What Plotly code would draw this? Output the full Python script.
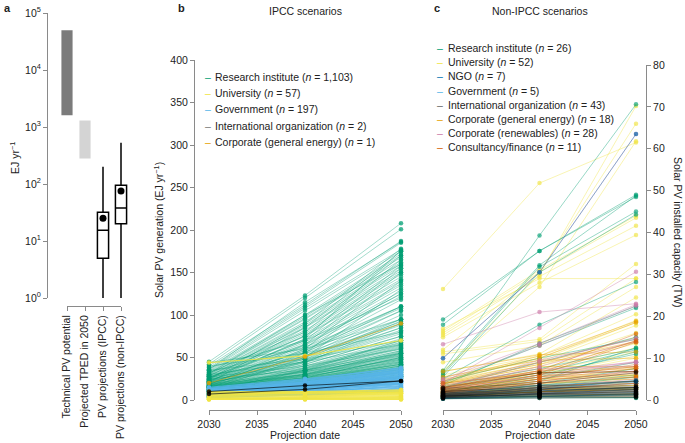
import plotly.graph_objects as go

W, H = 685, 443
FONT = "Liberation Sans, Arial, Helvetica, sans-serif"
AXC = "#8a8a8a"
TXT = "#222222"

# ---------------- Panel a ----------------
a_categories = ["Technical PV potential", "Projected TPED in 2050",
                "PV projections (IPCC)", "PV projections (non-IPCC)"]
a_bar_low = [1600, 280]
a_bar_high = [50000, 1300]
a_bar_colors = ["#7b7b7b", "#d4d4d4"]
a_box_lowerfence = [1, 1]
a_box_q1 = [5, 20]
a_box_median = [15.5, 38]
a_box_q3 = [32, 95]
a_box_upperfence = [200, 530]
a_box_mean = [25, 75]
a_yticks = [1, 10, 100, 1000, 10000, 100000]
a_yticktext = ["10<sup>0</sup>", "10<sup>1</sup>", "10<sup>2</sup>",
               "10<sup>3</sup>", "10<sup>4</sup>", "10<sup>5</sup>"]

# ---------------- Panel b (EJ/yr) ----------------
years = [2030, 2040, 2050]
b_research = [
    [45, 123, 208], [42, 120, 201], [40, 112, 187], [38, 110, 185], [36, 108, 177],
    [35, 105, 175], [34, 100, 172], [33, 98, 170], [32, 96, 168], [31, 95, 165],
    [30, 92, 162], [30, 90, 160], [29, 88, 158], [28, 86, 155], [28, 85, 152],
    [27, 82, 150], [26, 80, 148], [26, 78, 145], [25, 76, 142], [25, 75, 140],
    [24, 72, 137], [24, 70, 135], [23, 68, 132], [22, 66, 128], [22, 64, 125],
    [21, 62, 122], [20, 60, 110], [20, 58, 108], [19, 56, 105], [19, 55, 95],
    [18, 52, 92], [18, 50, 88], [17, 48, 85], [17, 46, 82], [16, 45, 80],
    [16, 44, 78], [15, 42, 75], [15, 40, 72], [14, 38, 70], [14, 37, 68],
    [13, 36, 65], [13, 35, 63], [12, 34, 60], [12, 33, 58], [12, 32, 56],
    [11, 31, 55], [11, 30, 53], [11, 29, 51], [10, 28, 50], [10, 27, 48],
    [10, 26, 47], [9, 25, 45], [9, 24, 44], [9, 23, 42], [8, 22, 41],
    [8, 21, 40], [8, 20, 38], [7, 19, 37], [7, 18, 36], [7, 17, 35],
    [44, 60, 95], [40, 55, 80], [38, 70, 120], [35, 48, 70], [33, 62, 110],
    [30, 45, 65], [28, 52, 90], [27, 40, 60], [25, 35, 55], [24, 50, 100],
    [23, 45, 85], [21, 38, 66], [20, 42, 75], [19, 33, 52], [18, 30, 48],
    [17, 28, 45], [16, 26, 42], [15, 24, 40], [14, 22, 38], [13, 20, 36],
    [12, 19, 33], [11, 18, 32], [10, 17, 30], [9, 15, 28], [8, 14, 27],
    [32, 80, 170], [29, 75, 165], [26, 70, 158], [22, 72, 176], [18, 65, 155],
    [16, 60, 150], [14, 55, 140], [12, 50, 130], [20, 85, 175], [24, 90, 178],
    [36, 115, 186], [31, 100, 160], [27, 65, 125], [23, 58, 118], [10, 35, 70],
    [12, 24, 46], [13, 26, 50], [15, 30, 54], [9, 20, 39], [11, 22, 43],
    [6, 15, 30], [6, 14, 28], [5, 13, 26], [5, 12, 25], [8, 18, 34],
    [9, 19, 36], [10, 21, 38], [11, 24, 42], [12, 27, 49], [13, 29, 52],
    [14, 31, 55], [15, 33, 58], [16, 35, 61], [17, 37, 64], [18, 40, 67],
    [7, 16, 32], [9, 22, 40], [10, 23, 44], [11, 25, 47], [13, 28, 54],
    [14, 30, 57], [16, 34, 62], [6, 13, 27], [8, 17, 33], [12, 26, 50],
    [20, 44, 90], [22, 48, 95], [26, 56, 110], [21, 52, 105], [19, 46, 93],
]
b_government = [
    [14, 24, 38], [13, 22, 36], [12, 21, 34], [11, 20, 32], [10, 18, 30],
    [9, 17, 28], [8, 15, 26], [7, 14, 24], [6, 12, 22], [5, 11, 20],
    [5, 10, 18], [4, 9, 16], [4, 8, 14], [3, 7, 12], [3, 6, 10],
    [12, 19, 26], [10, 16, 22], [8, 13, 19], [6, 10, 15], [15, 25, 37],
    [9, 20, 33], [7, 17, 29], [13, 23, 35], [12, 20, 33], [11, 19, 31],
    [10, 17, 29], [9, 16, 27], [8, 14, 25], [7, 13, 23], [6, 11, 21],
    [5, 10, 19], [4, 9, 17], [4, 7, 13], [3, 6, 11], [11, 21, 35],
    [10, 19, 31], [8, 16, 27], [7, 15, 25], [6, 13, 22], [5, 12, 20],
]
b_university = [
    [10, 10, 12], [9, 9, 11], [8, 8, 10], [7, 8, 9], [6, 7, 8], [5, 6, 7],
    [4, 5, 6], [3, 4, 5], [2, 3, 4], [2, 2, 3], [1, 2, 2], [1, 1, 1],
    [0.5, 0.5, 0.5], [5, 10, 8], [44, 52, 70],
]
b_corporate = [[20, 51, 90]]
b_international = [[10, 17, 22.5], [7, 12.5, 22.5]]

b_legend_names = ["Research institute", "University", "Government",
                  "International organization", "Corporate (general energy)"]
b_legend_n = ["1,103", "57", "197", "2", "1"]
b_legend_colors = ["#009E73", "#F0E442", "#56B4E9", "#777777", "#E69F00"]

# ---------------- Panel c (TW) ----------------
c_research = [
    [7.0, 39.3, 70.6], [19.2, 35.6, 49.0], [18.0, 35.6, 48.5], [6.5, 32.2, 48.8],
    [6.0, 31.8, 45.0], [5.5, 30.5, 44.3], [5.0, 18.0, 28.2], [4.0, 13.0, 22.0],
    [3.5, 13.5, 22.4], [3.0, 9.0, 15.0], [2.5, 6.5, 12.0], [2.0, 5.5, 11.5],
    [1.5, 5.0, 9.0], [1.2, 4.0, 7.5], [1.0, 3.0, 5.5], [0.8, 2.0, 3.0],
    [0.5, 1.5, 2.0], [0.3, 0.5, 0.5], [0.5, 1.0, 1.2], [2.2, 4.5, 12.5],
    [1.8, 6.0, 11.0], [0.6, 2.5, 4.0], [4.5, 10.0, 14.5], [3.2, 7.5, 12.3],
    [1.0, 3.5, 6.0], [0.4, 0.8, 0.6],
]
c_university = [
    [26.5, 51.8, 61.5], [7.0, 27.0, 61.8], [6.5, 30.0, 70.2], [12.0, 30.5, 66.0],
    [16.5, 31.0, 44.0], [16.0, 30.5, 43.5], [15.5, 29.5, 41.6], [15.0, 28.0, 39.4],
    [11.5, 14.5, 32.5], [11.0, 14.0, 29.0], [9.0, 13.0, 27.0], [6.8, 11.0, 24.5],
    [6.0, 10.5, 20.5], [5.5, 10.0, 19.0], [5.0, 9.5, 18.5], [4.5, 9.0, 17.8],
    [4.0, 8.5, 16.0], [3.8, 8.0, 15.0], [3.5, 7.5, 13.5], [3.0, 7.0, 12.5],
    [2.8, 6.5, 11.5], [2.5, 6.0, 10.5], [2.2, 5.5, 10.0], [2.0, 5.0, 8.5],
    [1.8, 4.5, 7.5], [1.5, 4.0, 6.5], [1.2, 3.5, 5.5], [1.0, 3.0, 4.5],
    [0.8, 2.5, 3.5], [0.6, 2.0, 2.8], [0.5, 1.5, 2.0], [0.4, 1.0, 1.5],
    [0.3, 0.8, 1.0], [1.5, 2.5, 3.0], [2.5, 4.0, 5.0], [3.5, 5.0, 6.0],
    [0.8, 1.2, 1.5], [1.0, 2.0, 2.5], [17.0, 29.0, 29.0],
]
c_ngo = [
    [10.0, 30.5, 63.5], [1.5, 3.5, 4.5], [1.2, 3.0, 4.3], [1.0, 2.5, 4.7],
    [0.8, 2.2, 3.0], [0.5, 1.5, 2.5], [0.3, 0.8, 1.5],
]
c_government = [
    [1.0, 2.0, 3.0], [0.6, 1.2, 1.8], [2.0, 3.5, 5.5], [0.4, 0.8, 1.2], [1.5, 2.8, 4.0],
]
c_international = [
    [2.8, 4.0, 6.5], [2.5, 3.5, 3.2], [2.2, 3.0, 3.0], [2.0, 2.8, 2.8], [1.8, 2.5, 2.6],
    [1.6, 2.3, 2.4], [1.5, 2.0, 2.2], [1.3, 1.8, 2.0], [1.2, 1.6, 1.8], [1.0, 1.5, 1.6],
    [0.9, 1.3, 1.5], [0.8, 1.2, 1.3], [0.7, 1.0, 1.2], [0.6, 0.9, 1.0], [0.5, 0.8, 0.9],
    [1.4, 2.2, 3.0], [1.1, 1.9, 2.6], [0.9, 1.7, 2.4], [0.6, 1.4, 2.0], [2.0, 3.2, 4.5],
    [1.7, 2.6, 3.6], [1.0, 1.2, 1.4], [0.4, 0.6, 0.7], [0.3, 0.5, 0.6], [3.0, 6.5, 6.8],
]
c_corp_energy = [
    [4.8, 10.5, 18.8], [4.5, 10.0, 18.5], [4.2, 9.0, 14.0], [4.0, 8.5, 13.8],
    [3.8, 8.0, 8.0], [3.5, 7.0, 7.8], [3.2, 6.5, 7.5], [3.0, 6.0, 6.0],
    [2.8, 5.5, 5.8], [2.5, 5.0, 5.5], [2.2, 4.5, 5.0], [2.0, 4.0, 4.5],
    [1.8, 3.5, 4.0], [1.5, 3.0, 3.5], [1.2, 2.5, 3.0], [1.0, 2.0, 2.5],
    [6.8, 10.8, 11.5], [5.5, 9.5, 10.0],
]
c_corp_renew = [
    [13.3, 21.0, 23.0], [10.0, 30.5, 63.5], [4.0, 17.2, 30.6], [5.0, 13.5, 22.8],
    [4.5, 13.0, 22.5], [3.0, 9.5, 14.5], [2.8, 9.0, 14.8], [2.5, 8.0, 14.0],
    [2.2, 7.0, 9.0], [2.0, 6.0, 9.2], [1.8, 5.0, 8.5], [1.5, 4.5, 7.0],
    [1.2, 4.0, 6.5], [1.0, 3.0, 5.0], [0.8, 2.5, 4.0], [2.7, 5.5, 9.0],
    [3.5, 7.5, 8.0], [0.5, 1.5, 2.0],
]
c_consult = [
    [3.0, 7.0, 15.8], [2.8, 6.5, 14.2], [2.5, 6.0, 13.8], [2.2, 5.5, 8.0],
    [2.0, 5.0, 7.5], [1.8, 4.5, 6.8], [1.5, 4.0, 5.5], [1.2, 3.0, 4.5],
    [1.0, 2.5, 4.0], [0.8, 2.0, 3.0], [4.0, 6.5, 6.8],
]
c_legend_names = ["Research institute", "University", "NGO", "Government",
                  "International organization", "Corporate (general energy)",
                  "Corporate (renewables)", "Consultancy/finance"]
c_legend_n = ["26", "52", "7", "5", "43", "18", "28", "11"]
c_legend_colors = ["#009E73", "#F0E442", "#0072B2", "#56B4E9", "#666666",
                   "#E69F00", "#CC79A7", "#D55E00"]


def rgba(hexc, a):
    h = hexc.lstrip("#")
    r, g, b = int(h[0:2], 16), int(h[2:4], 16), int(h[4:6], 16)
    return f"rgba({r},{g},{b},{a})"


def px_x(p):
    return p / W


def px_y(p):
    return 1 - p / H


fig = go.Figure()

# ----- panel a traces -----
fig.add_trace(go.Bar(
    x=[0, 1], base=a_bar_low,
    y=[hi - lo for hi, lo in zip(a_bar_high, a_bar_low)],
    width=0.62, marker=dict(color=a_bar_colors, line=dict(width=0)),
    xaxis="x", yaxis="y", showlegend=False, hoverinfo="skip"))
fig.add_trace(go.Box(
    x=[2, 3], q1=a_box_q1, median=a_box_median, q3=a_box_q3,
    lowerfence=a_box_lowerfence, upperfence=a_box_upperfence,
    width=0.62, fillcolor="white", line=dict(color="black", width=1.5),
    whiskerwidth=0, boxpoints=False, xaxis="x", yaxis="y", showlegend=False,
    hoverinfo="skip"))
fig.add_trace(go.Scatter(
    x=[2, 3], y=a_box_mean, mode="markers",
    marker=dict(color="black", size=7), xaxis="x", yaxis="y",
    showlegend=False, hoverinfo="skip"))
fig.add_trace(go.Scatter(x=[None], y=[None], xaxis="x4", yaxis="y4",
                         showlegend=False, hoverinfo="skip"))


def add_lines(rows, color, xa, ya, la, ma, lw=0.9, ms=4.5):
    for row in rows:
        fig.add_trace(go.Scatter(
            x=years, y=row, mode="lines+markers",
            line=dict(color=rgba(color, la), width=lw),
            marker=dict(color=rgba(color, ma), size=ms),
            cliponaxis=False, xaxis=xa, yaxis=ya,
            showlegend=False, hoverinfo="skip"))


# ----- panel b -----
add_lines(b_research, "#009E73", "x2", "y2", 0.4, 0.75)
add_lines(b_government, "#56B4E9", "x2", "y2", 0.8, 0.9, lw=1.2)
add_lines(b_university, "#F0E442", "x2", "y2", 0.85, 0.9, lw=1.2)
add_lines(b_corporate, "#E69F00", "x2", "y2", 0.6, 0.8)
add_lines(b_international, "#000000", "x2", "y2", 0.7, 0.85)

# ----- panel c -----
add_lines(c_university, "#F0E442", "x3", "y3", 0.45, 0.65)
add_lines(c_research, "#009E73", "x3", "y3", 0.45, 0.65)
add_lines(c_government, "#56B4E9", "x3", "y3", 0.45, 0.65)
add_lines(c_corp_energy, "#E69F00", "x3", "y3", 0.45, 0.65)
add_lines(c_corp_renew, "#CC79A7", "x3", "y3", 0.45, 0.65)
add_lines(c_consult, "#D55E00", "x3", "y3", 0.45, 0.65)
add_lines(c_ngo, "#0072B2", "x3", "y3", 0.45, 0.65)
add_lines(c_international, "#000000", "x3", "y3", 0.3, 0.5)

tickfont = dict(family=FONT, size=10.5, color=TXT)
common = dict(showline=True, linecolor=AXC, linewidth=1, ticks="outside",
              tickcolor=AXC, ticklen=4, tickwidth=1, showgrid=False,
              zeroline=False, tickfont=tickfont, automargin=False)

unit = (121 - 67) / 3.0
fig.update_layout(
    width=W, height=H, margin=dict(l=0, r=0, t=0, b=0, autoexpand=False),
    paper_bgcolor="white", plot_bgcolor="rgba(0,0,0,0)",
    showlegend=False, barmode="overlay", font=dict(family=FONT, color=TXT),
    # panel a
    xaxis=dict(domain=[px_x(67 - 0.5 * unit), px_x(121 + 0.5 * unit)],
               range=[-0.5, 3.5], visible=False, anchor="y", automargin=False),
    yaxis=dict(type="log", domain=[px_y(298), px_y(13)], range=[0, 5],
               anchor="free", position=px_x(47), tickvals=a_yticks,
               ticktext=a_yticktext, **common),
    xaxis4=dict(domain=[px_x(67), px_x(121)], range=[0, 3], anchor="free",
                position=px_y(306), tickvals=[0, 1, 2, 3], ticktext=a_categories,
                tickangle=-90, **common),
    yaxis4=dict(domain=[px_y(298), px_y(13)], range=[0, 1], visible=False,
                anchor="x4", automargin=False),
    # panel b
    xaxis2=dict(domain=[px_x(209), px_x(401)], range=[2030, 2050],
                anchor="free", position=px_y(410),
                tickvals=[2030, 2035, 2040, 2045, 2050], **common),
    yaxis2=dict(domain=[px_y(400), px_y(60)], range=[0, 400], anchor="free",
                position=px_x(194), tickvals=list(range(0, 401, 50)), **common),
    # panel c
    xaxis3=dict(domain=[px_x(443), px_x(636)], range=[2030, 2050],
                anchor="free", position=px_y(410),
                tickvals=[2030, 2035, 2040, 2045, 2050], **common),
    yaxis3=dict(domain=[px_y(400), px_y(65)], range=[0, 80], anchor="free",
                side="right", position=px_x(646),
                tickvals=list(range(0, 81, 10)), **common),
)

ann = []


def text(x, y, s, size=10.5, xanchor="center", yanchor="middle", angle=0,
         bold=False, color=TXT):
    if bold:
        s = f"<b>{s}</b>"
    ann.append(dict(x=px_x(x), y=px_y(y), xref="paper", yref="paper", text=s,
                    showarrow=False, xanchor=xanchor, yanchor=yanchor,
                    textangle=angle, font=dict(family=FONT, size=size, color=color)))


text(2, 8, "a", size=11, xanchor="left", bold=True)
text(176, 8, "b", size=11, xanchor="left", bold=True)
text(432, 8, "c", size=11, xanchor="left", bold=True)
text(305, 11, "IPCC scenarios", size=10.5)
text(540, 11, "Non-IPCC scenarios", size=10.5)
text(14, 158, "EJ yr<sup>−1</sup>", angle=-90)
text(158, 230, "Solar PV generation (EJ yr<sup>−1</sup>)", angle=-90)
text(305, 435, "Projection date")
text(540, 435, "Projection date")
text(678, 232, "Solar PV installed capacity (TW)", angle=90)

b_leg_y = [77, 93, 109, 126, 142]
for name, n, col, yy in zip(b_legend_names, b_legend_n, b_legend_colors, b_leg_y):
    text(207.5, yy, "–", color=col)
    text(213, yy, f"{name} (<i>n</i> = {n})", xanchor="left")

c_leg_y = [48, 62, 76, 91, 105, 119, 133, 147]
for name, n, col, yy in zip(c_legend_names, c_legend_n, c_legend_colors, c_leg_y):
    text(439.5, yy, "–", color=col)
    text(446, yy, f"{name} (<i>n</i> = {n})", xanchor="left")

fig.update_layout(annotations=ann)
fig.write_html("out.html")
